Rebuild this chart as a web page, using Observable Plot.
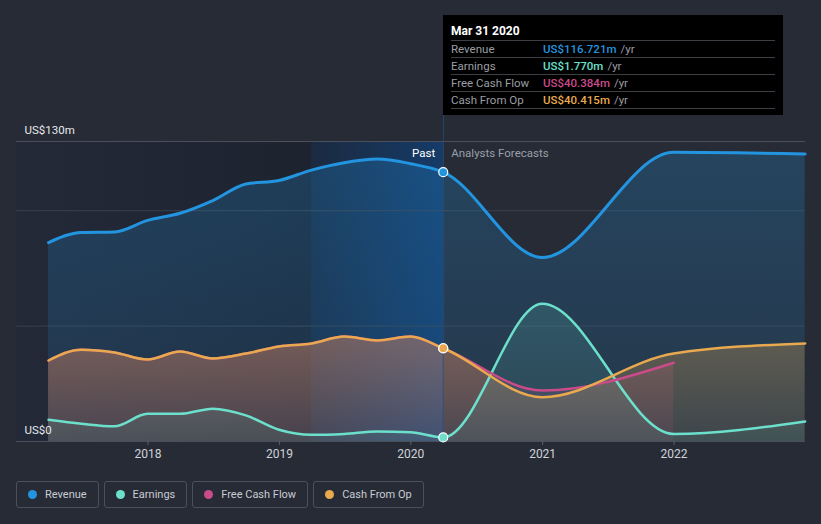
<!DOCTYPE html>
<html><head><meta charset="utf-8">
<script src="https://cdn.jsdelivr.net/npm/d3@7"></script>
<script src="https://cdn.jsdelivr.net/npm/@observablehq/plot@0.6"></script>
<style>
body{margin:0;background:#262b36;font-family:Roboto,"Noto Sans",sans-serif;}
#wrap{position:relative;width:821px;height:524px;overflow:hidden;}
#chart{position:absolute;left:0;top:0;}
#tip{position:absolute;left:443px;top:15px;width:340px;height:100px;background:#000;box-sizing:border-box;padding:7px 8px 0 8px;}
#tip .t{color:#fff;font-weight:bold;font-size:12px;height:18px;line-height:18px;border-bottom:1px solid #3d3f44;}
#tip .r{height:16px;line-height:16px;font-size:11.5px;border-bottom:1px solid #3d3f44;display:flex;}
#tip .r .l{width:92px;color:#9a9da3;}
#tip .r .u{color:#9a9da3;margin-left:4px;}
#vline{position:absolute;left:443px;top:115px;width:1px;height:26px;background:#1f4470;}
#legend{position:absolute;left:16px;top:481px;display:flex;gap:5px;}
#legend .b{height:27px;box-sizing:border-box;border:1px solid #4b515c;border-radius:3px;display:flex;align-items:center;padding:0 11px 0 11px;color:#c9ccd2;font-size:11px;}
#legend .d{width:9px;height:9px;border-radius:50%;margin-right:8px;}
</style></head><body><div id="wrap"><div id="chart"></div><div id="vline"></div><div id="tip"></div><div id="legend"></div></div>
<script>
// ---- data ----
const pastDates = ["2017-03-31","2017-06-30","2017-09-30","2017-12-31","2018-03-31","2018-06-30","2018-09-30","2018-12-31","2019-03-31","2019-06-30","2019-09-30","2019-12-31","2020-03-31"];
const forecastDates = ["2020-12-31","2021-12-31","2022-12-31"];
const revenuePast = [86.2, 90.6, 90.8, 95.8, 98.9, 104.4, 111.6, 113.1, 117.6, 120.8, 122.4, 120.4, 116.721];
const revenueForecast = [79.7, 125.3, 124.6];
const earningsPast = [9.4, 7.7, 6.6, 12.0, 12.0, 14.2, 11.3, 5.1, 2.9, 3.3, 4.3, 4.0, 1.77];
const earningsForecast = [59.7, 3.3, 8.7];
const fcfPast = [35.1, 39.8, 38.6, 35.5, 39.0, 36.0, 38.1, 41.2, 42.5, 45.5, 43.8, 45.5, 40.384];
const fcfForecast = [22.1, 34.1];
const cfoPast = [35.1, 39.8, 38.6, 35.5, 39.0, 36.0, 38.1, 41.2, 42.5, 45.5, 43.8, 45.5, 40.415];
const cfoForecast = [19.2, 38.1, 42.5];
const seriesNames = ["Revenue","Earnings","Free Cash Flow","Cash From Op"];
const seriesColors = ["#2394df","#6ce0cc","#c94b89","#e8a94f"];
const tipTitle = "Mar 31 2020";
const tipValues = ["US$116.721m","US$1.770m","US$40.384m","US$40.415m"];
const xDomain = ["2017-01-01","2023-01-01"];
const highlightStart = "2019-03-31";
const pastEnd = "2020-03-31";
const yTicks = [0, 130];
const yTickLabels = ["US$0","US$130m"];
const yGrid = [50, 100];
const xTickYears = [2018, 2019, 2020, 2021, 2022];

// ---- build ----
const P = d => new Date(d);
function series(name, past, fc) {
  const pts = past.map((v, i) => ({date: P(pastDates[i]), value: v, name}));
  fc.forEach((v, i) => pts.push({date: P(forecastDates[i]), value: v, name}));
  return pts;
}
const rev = series("Revenue", revenuePast, revenueForecast);
const earn = series("Earnings", earningsPast, earningsForecast);
const fcf = series("Free Cash Flow", fcfPast, fcfForecast);
const cfo = series("Cash From Op", cfoPast, cfoForecast);
const lastPts = [rev, earn, fcf, cfo].map(s => s[pastDates.length - 1]);

const defs = () => {
  const svgNS = "http://www.w3.org/2000/svg";
  const g = document.createElementNS(svgNS, "defs");
  g.innerHTML = `
    <linearGradient id="bgPast" x1="0" x2="1" y1="0" y2="0">
      <stop offset="0" stop-color="#232937"/><stop offset="1" stop-color="#1b202c"/></linearGradient>
    <linearGradient id="bgBand" x1="0" x2="1" y1="0" y2="0">
      <stop offset="0" stop-color="#1b2a40"/><stop offset="1" stop-color="#153b68"/></linearGradient>
    ${seriesColors.map((c, i) => `<linearGradient id="ag${i}" x1="0" x2="0" y1="0" y2="1">
      <stop offset="0" stop-color="${c}" stop-opacity="${[0.24,0.16,0.22,0.3][i]}"/>
      <stop offset="1" stop-color="${c}" stop-opacity="${[0.12,0.08,0.1,0.12][i]}"/></linearGradient>`).join("")}`;
  return g;
};

const curve = "monotone-x";
const chart = Plot.plot({
  width: 821, height: 470,
  marginTop: 141, marginBottom: 29, marginLeft: 16, marginRight: 16,
  style: {background: "transparent", color: "#d0d3d8", fontFamily: "Roboto, sans-serif", fontSize: "12px"},
  x: {type: "utc", domain: xDomain.map(P)},
  y: {domain: [0, 130], axis: null},
  marks: [
    defs,
    Plot.rect([{a: P(xDomain[0]), b: P(pastEnd)}], {x1: "a", x2: "b", y1: 0, y2: 130, fill: "url(#bgPast)"}),
    Plot.rect([{a: P(highlightStart), b: P(pastEnd)}], {x1: "a", x2: "b", y1: 0, y2: 130, fill: "url(#bgBand)"}),
    Plot.ruleY(yGrid, {stroke: "#3a404c", strokeWidth: 1}),
    Plot.ruleY([yTicks[1]], {stroke: "#4a505b"}),
    Plot.areaY(rev, {x: "date", y: "value", fill: "url(#ag0)", curve}),
    Plot.areaY(fcf, {x: "date", y: "value", fill: "url(#ag2)", curve}),
    Plot.areaY(cfo, {x: "date", y: "value", fill: "url(#ag3)", curve}),
    Plot.areaY(earn, {x: "date", y: "value", fill: "url(#ag1)", curve}),
    Plot.ruleX([P(pastEnd)], {y1: 0, y2: 130, stroke: "#2a5282", strokeOpacity: 0.8}),
    Plot.ruleY([yTicks[0]], {stroke: "#4a505b"}),
    Plot.line(rev, {x: "date", y: "value", stroke: seriesColors[0], strokeWidth: 3, curve}),
    Plot.line(earn, {x: "date", y: "value", stroke: seriesColors[1], strokeWidth: 2.5, curve}),
    Plot.line(fcf, {x: "date", y: "value", stroke: seriesColors[2], strokeWidth: 2.5, curve}),
    Plot.line(cfo, {x: "date", y: "value", stroke: seriesColors[3], strokeWidth: 2.5, curve}),
    Plot.dot(lastPts, {x: "date", y: "value", fill: d => seriesColors[seriesNames.indexOf(d.name)], stroke: "#fff", strokeWidth: 1.2, r: 4.5}),
    Plot.text([P(pastEnd)], {x: d => d, y: 130, text: ["Past"], dx: -8, dy: 12, textAnchor: "end", fill: "#ffffff", fontSize: 11.5}),
    Plot.text([P(pastEnd)], {x: d => d, y: 130, text: ["Analysts Forecasts"], dx: 8, dy: 12, textAnchor: "start", fill: "#9a9fa8", fontSize: 11.5}),
    Plot.text(yTicks, {x: P(xDomain[0]), y: d => d, text: (d, i) => yTickLabels[i], dx: 8, dy: -11, textAnchor: "start", fill: "#e6e8eb", fontSize: 11.5}),
    Plot.axisX(xTickYears.map(y => new Date(Date.UTC(y, 0, 1))), {tickFormat: d3.utcFormat("%Y"), tickSize: 4, tickPadding: 4, stroke: "#5a606b", color: "#d0d3d8", fontSize: 12})
  ]
});
document.getElementById("chart").appendChild(chart);

// tooltip
const tip = document.getElementById("tip");
let html = `<div class="t">${tipTitle}</div>`;
seriesNames.forEach((n, i) => {
  html += `<div class="r"><span class="l">${n}</span><span style="color:${seriesColors[i]};font-weight:500">${tipValues[i]}</span><span class="u">/yr</span></div>`;
});
tip.innerHTML = html;

// legend
const lg = document.getElementById("legend");
seriesNames.forEach((n, i) => {
  const b = document.createElement("div"); b.className = "b";
  b.innerHTML = `<span class="d" style="background:${seriesColors[i]}"></span>${n}`;
  lg.appendChild(b);
});
</script></body></html>
